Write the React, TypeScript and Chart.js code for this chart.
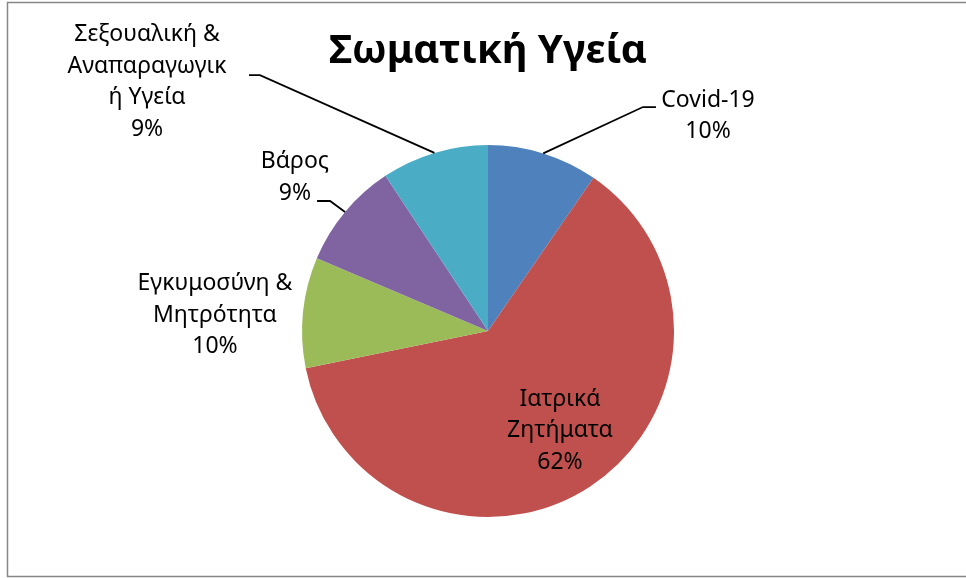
import React, { useEffect, useRef } from 'react';
import { Chart, registerables } from 'chart.js';

Chart.register(...registerables);

const TITLE = 'Σωματική Υγεία';
const categories = [
  'Covid-19',
  'Ιατρικά Ζητήματα',
  'Εγκυμοσύνη & Μητρότητα',
  'Βάρος',
  'Σεξουαλική & Αναπαραγωγική Υγεία',
];
const labelLines = [
  ['Covid-19'],
  ['Ιατρικά', 'Ζητήματα'],
  ['Εγκυμοσύνη &', 'Μητρότητα'],
  ['Βάρος'],
  ['Σεξουαλική &', 'Αναπαραγωγικ', 'ή Υγεία'],
];
const values = [9.6, 62.2, 9.6, 9.3, 9.3];
const colors = ['#4F81BD', '#C0504D', '#9BBB59', '#8064A2', '#4BACC6'];

// label block centres, in units of the pie radius, relative to pie centre
const labelPos: number[][] = [
  [1.183, -1.156],
  [0.387, 0.535],
  [-1.468, -0.086],
  [-1.038, -0.825],
  [-1.833, -1.339],
];
const leaderKnee: (number[] | null)[] = [[0.833, -1.204], null, null, [-0.849, -0.699], [-1.226, -1.376]];
const leaderEnd: (number[] | null)[] = [[0.903, -1.204], null, null, [-0.919, -0.699], [-1.285, -1.376]];

const FONT = '"Noto Sans", "DejaVu Sans", sans-serif';

const labelPlugin = {
  id: 'excelLabels',
  afterDraw(chart: any) {
    const ctx = chart.ctx as CanvasRenderingContext2D;
    const meta = chart.getDatasetMeta(0);
    const data = chart.data.datasets[0].data as number[];
    const total = data.reduce((a, b) => a + b, 0);
    ctx.save();
    // frame
    ctx.strokeStyle = '#868686';
    ctx.lineWidth = 1.5;
    ctx.strokeRect(7.5, 2.5, 1000, 574);
    // title
    ctx.fillStyle = '#000';
    ctx.font = `bold 40px ${FONT}`;
    ctx.textAlign = 'center';
    ctx.textBaseline = 'middle';
    const a0 = meta.data[0].getProps(['x', 'y', 'outerRadius'], true);
    ctx.fillText(TITLE, a0.x, 52);

    meta.data.forEach((arc: any, i: number) => {
      const p = arc.getProps(['x', 'y', 'outerRadius', 'startAngle', 'endAngle'], true);
      const r = p.outerRadius;
      const mid = (p.startAngle + p.endAngle) / 2;
      const knee = leaderKnee[i];
      const end = leaderEnd[i];
      if (knee && end) {
        ctx.beginPath();
        ctx.strokeStyle = '#000';
        ctx.lineWidth = 1.8;
        ctx.moveTo(p.x + r * Math.cos(mid), p.y + r * Math.sin(mid));
        ctx.lineTo(p.x + knee[0] * r, p.y + knee[1] * r);
        ctx.lineTo(p.x + end[0] * r, p.y + end[1] * r);
        ctx.stroke();
      }
      const pct = Math.round((data[i] / total) * 100) + '%';
      const lines = [...labelLines[i], pct];
      const lh = 31.5;
      const cx = p.x + labelPos[i][0] * r;
      const cy = p.y + labelPos[i][1] * r;
      ctx.font = `23px ${FONT}`;
      ctx.fillStyle = '#000';
      ctx.textAlign = 'center';
      ctx.textBaseline = 'middle';
      lines.forEach((t, k) => {
        ctx.fillText(t, cx, cy + (k - (lines.length - 1) / 2) * lh);
      });
    });
    ctx.restore();
  },
};

export default function App() {
  const ref = useRef<HTMLCanvasElement | null>(null);
  useEffect(() => {
    document.body.style.margin = '0';
    if (!ref.current) return;
    const chart = new Chart(ref.current, {
      type: 'pie',
      data: {
        labels: categories,
        datasets: [
          {
            data: values,
            backgroundColor: colors,
            borderWidth: 0,
          },
        ],
      },
      options: {
        responsive: false,
        maintainAspectRatio: false,
        animation: false,
        layout: { padding: { top: 145, bottom: 61, left: 302, right: 292 } },
        plugins: {
          legend: { display: false },
          tooltip: { enabled: false },
          title: { display: false },
        },
      },
      plugins: [labelPlugin],
    });
    return () => chart.destroy();
  }, []);
  return (
    <div style={{ width: 966, height: 578, background: '#fff' }}>
      <canvas ref={ref} width={966} height={578} style={{ display: 'block' }} />
    </div>
  );
}
